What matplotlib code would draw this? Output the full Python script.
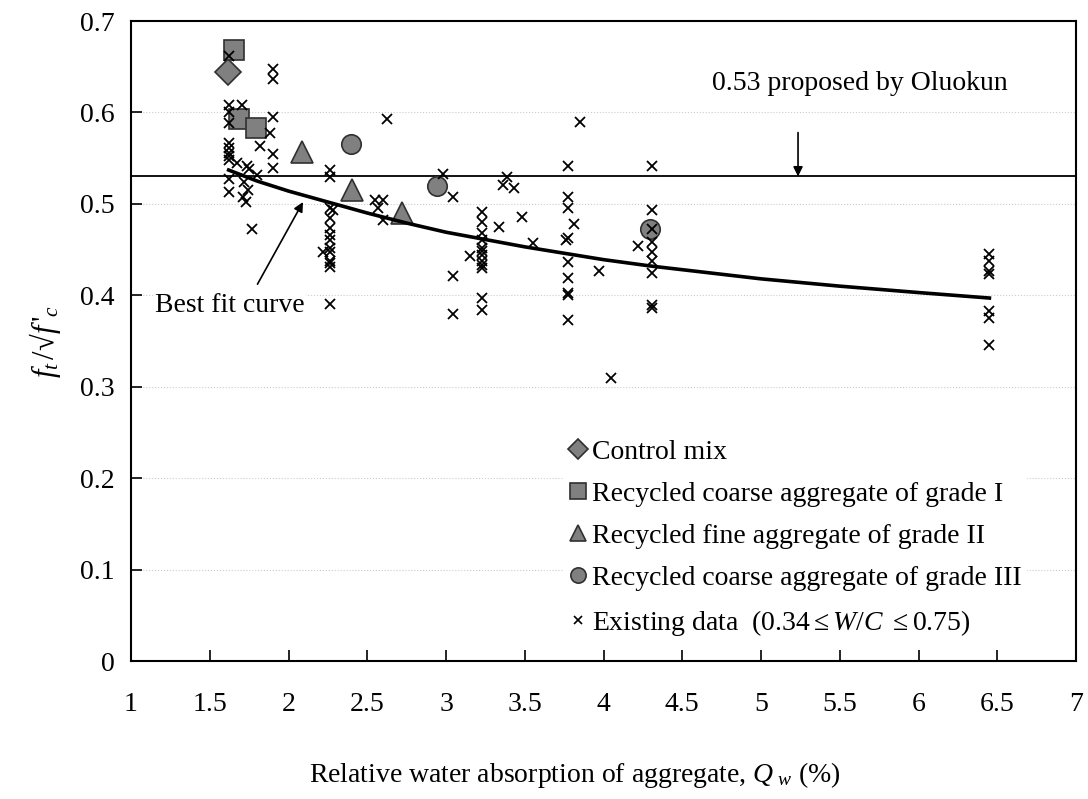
import numpy as np
import matplotlib
matplotlib.use("Agg")
import matplotlib.pyplot as plt
from matplotlib.lines import Line2D

plt.rcParams['font.family'] = ['Liberation Serif', 'DejaVu Serif']
plt.rcParams['mathtext.fontset'] = 'custom'
plt.rcParams['mathtext.rm'] = 'Liberation Serif'
plt.rcParams['mathtext.it'] = 'Liberation Serif:italic'

# test series
ctrl_x = [1.616]
ctrl_y = [0.644]
g1_x = [1.654, 1.686, 1.794]
g1_y = [0.668, 0.593, 0.583]
g2_x = [2.086, 2.403, 2.72]
g2_y = [0.557, 0.515, 0.490]
g3_x = [2.397, 2.943, 4.295]
g3_y = [0.565, 0.519, 0.473]

# existing data from literature
ex_x = [1.62, 1.62, 1.62, 1.62, 1.62, 1.62, 1.62, 1.62, 1.62, 1.62, 1.62,
        1.705, 1.673, 1.737, 1.75, 1.80, 1.72, 1.74, 1.71, 1.73, 1.77, 1.819,
        1.90, 1.90, 1.90, 1.88, 1.90, 1.90,
        2.263, 2.263, 2.263, 2.263, 2.263, 2.263, 2.263, 2.263, 2.263, 2.263,
        2.263, 2.263, 2.22, 2.28, 2.263,
        2.55, 2.60, 2.57, 2.60, 2.625,
        2.98, 3.045, 3.045, 3.045,
        3.23, 3.23, 3.23, 3.23, 3.23, 3.23, 3.23, 3.23, 3.23, 3.23,
        3.15, 3.23, 3.23, 3.337,
        3.36, 3.39, 3.43, 3.48, 3.55,
        3.775, 3.775, 3.775, 3.775, 3.775, 3.775, 3.775, 3.775, 3.775,
        3.81, 3.85, 3.765,
        3.97, 4.05, 4.22,
        4.31, 4.31, 4.31, 4.31, 4.31, 4.31, 4.31, 4.31, 4.31,
        6.45, 6.45, 6.45, 6.45, 6.45, 6.45, 6.45]
ex_y = [0.662, 0.608, 0.600, 0.588, 0.567, 0.561, 0.556, 0.552, 0.548, 0.527, 0.513,
        0.608, 0.545, 0.541, 0.538, 0.532, 0.524, 0.515, 0.508, 0.502, 0.472, 0.563,
        0.648, 0.637, 0.595, 0.578, 0.554, 0.539,
        0.537, 0.529, 0.495, 0.484, 0.474, 0.466, 0.460, 0.452, 0.447, 0.438,
        0.435, 0.431, 0.447, 0.493, 0.391,
        0.504, 0.504, 0.495, 0.482, 0.593,
        0.533, 0.508, 0.421, 0.380,
        0.491, 0.480, 0.468, 0.460, 0.452, 0.448, 0.444, 0.438, 0.433, 0.430,
        0.443, 0.397, 0.384, 0.475,
        0.521, 0.529, 0.517, 0.486, 0.457,
        0.541, 0.508, 0.495, 0.463, 0.436, 0.419, 0.403, 0.400, 0.373,
        0.478, 0.589, 0.460,
        0.427, 0.309, 0.454,
        0.541, 0.493, 0.473, 0.458, 0.447, 0.438, 0.424, 0.389, 0.386,
        0.445, 0.437, 0.427, 0.423, 0.383, 0.375, 0.346]

# best fit curve
fit_x = [1.62, 1.8, 2.0, 2.25, 2.5, 2.75, 3.0, 3.25, 3.5, 3.75, 4.0, 4.3,
         4.6, 5.0, 5.5, 6.0, 6.45]
fit_y = [0.537, 0.525, 0.514, 0.502, 0.490, 0.479, 0.469, 0.461, 0.453,
         0.446, 0.439, 0.432, 0.426, 0.418, 0.410, 0.403, 0.397]

oluokun = 0.53

fig = plt.figure(figsize=(10.88, 7.99), dpi=100)
ax = fig.add_axes([0.1204, 0.1727, 0.8686, 0.801])

grey = '#808080'
edge = '#303030'
ax.plot(ctrl_x, ctrl_y, 'D', ms=13, mfc=grey, mec=edge, mew=1.2, zorder=3)
ax.plot(g1_x, g1_y, 's', ms=14, mfc=grey, mec=edge, mew=1.2, zorder=3)
ax.plot(g2_x, g2_y, '^', ms=16, mfc=grey, mec=edge, mew=1.2, zorder=3)
ax.plot(g3_x, g3_y, 'o', ms=14, mfc=grey, mec=edge, mew=1.2, zorder=3)
ax.plot(ex_x, ex_y, 'x', ms=7, mec='black', mew=1.3, zorder=4)
ax.plot(fit_x, fit_y, '-', color='black', lw=2.6, zorder=5)
ax.axhline(oluokun, color='black', lw=1.3, zorder=2)

ax.set_xlim(1, 7)
ax.set_ylim(0, 0.7)
ax.set_xticks(np.arange(1, 7.01, 0.5))
ax.set_xticklabels(['1', '1.5', '2', '2.5', '3', '3.5', '4', '4.5', '5', '5.5',
                    '6', '6.5', '7'])
ax.set_yticks(np.arange(0, 0.71, 0.1))
ax.set_yticklabels(['0', '0.1', '0.2', '0.3', '0.4', '0.5', '0.6', '0.7'])
ax.tick_params(direction='in', length=8, width=1.2, labelsize=20, pad=12)
ax.tick_params(axis='x', pad=22)
for s in ax.spines.values():
    s.set_linewidth(1.5)
ax.grid(axis='y', color='#cccccc', ls=':', lw=0.8, zorder=0)

ax.set_xlabel("Relative water absorption of aggregate, $Q_{\\ w}$ (%)",
              fontsize=20, labelpad=30)
ax.xaxis.set_label_coords(0.47, -0.155)
ax.set_ylabel("$f_t\\,/$√$f\\,'_c$", fontsize=22, labelpad=12)

ax.text(5.63, 0.632, '0.53 proposed by Oluokun', ha='center', va='center',
        fontsize=20, bbox=dict(fc='white', ec='none', pad=1), zorder=6)
ax.annotate('', xy=(5.235, oluokun), xytext=(5.235, 0.578),
            arrowprops=dict(arrowstyle='-|>', color='black', lw=1.2,
                            shrinkA=0, shrinkB=0, mutation_scale=14), zorder=6)
ax.annotate('Best fit curve', xy=(2.092, 0.502), xytext=(1.63, 0.389),
            ha='center', va='center', fontsize=20,
            bbox=dict(fc='white', ec='none', pad=1),
            arrowprops=dict(arrowstyle='-|>', color='black', lw=1.2,
                            shrinkA=6, shrinkB=0, mutation_scale=14,
                            relpos=(0.65, 1.0)), zorder=6)

handles = [
    Line2D([], [], ls='none', marker='D', ms=10, mfc=grey, mec=edge, mew=1.2),
    Line2D([], [], ls='none', marker='s', ms=11, mfc=grey, mec=edge, mew=1.2),
    Line2D([], [], ls='none', marker='^', ms=12, mfc=grey, mec=edge, mew=1.2),
    Line2D([], [], ls='none', marker='o', ms=11, mfc=grey, mec=edge, mew=1.2),
    Line2D([], [], ls='none', marker='x', ms=6, mec='black', mew=1.2),
]
labels = ['Control mix',
          'Recycled coarse aggregate of grade I',
          'Recycled fine aggregate of grade II',
          'Recycled coarse aggregate of grade III',
          'Existing data  (0.34$\\leq$$W/C$ $\\leq$0.75)']
leg = ax.legend(handles, labels, loc='upper left', bbox_to_anchor=(0.458, 0.355),
                fontsize=20, frameon=True, fancybox=False, edgecolor='none',
                facecolor='white', framealpha=1, borderpad=0.2,
                handlelength=0.6, handletextpad=0.2, labelspacing=0.6,
                borderaxespad=0)
leg.set_zorder(7)

fig.savefig('out.png', dpi=100)
